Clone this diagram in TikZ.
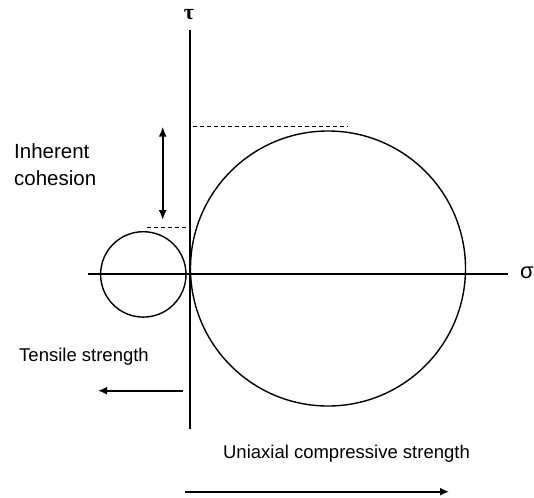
\documentclass[tikz,border=0pt]{standalone}
\usepackage{fontspec}
\setmainfont{Liberation Sans}
\newfontfamily\greekfont{Liberation Serif}
\usetikzlibrary{arrows.meta}
\begin{document}
\begin{tikzpicture}[x=1pt,y=-1pt,
  axis/.style={line width=1.7pt},
  circ/.style={line width=1.4pt},
  guide/.style={line width=1.3pt,dash pattern=on 4pt off 3pt},
  arr/.style={line width=1.7pt,-{Latex[length=9pt,width=8pt]}},
  darr/.style={line width=1.7pt,{Latex[length=10pt,width=8pt]}-{Latex[length=10pt,width=8pt]}},
  lbl/.style={inner sep=0pt,font=\fontsize{18.5}{22}\selectfont},
  biglbl/.style={inner sep=0pt,font=\fontsize{20.5}{27}\selectfont,align=left}]
\useasboundingbox (0,0) rectangle (534,497);
% axes
\coordinate (vtop) at (190,30);
\coordinate (vbot) at (190,429);
\coordinate (hl) at (88,274);
\coordinate (hr) at (508,274);
\draw[axis] (vtop) -- (vbot);
\draw[axis] (hl) -- (hr);
\node[inner sep=0pt,font=\greekfont\fontsize{22}{22}\selectfont\bfseries] (tau) at (189,15) {τ};
\node[inner sep=0pt,font=\fontsize{22}{22}\selectfont] (sigma) at (527,273) {σ};
% circles
\node[circ,draw,circle,minimum size=275pt,inner sep=0pt] (big) at (328,268.5) {};
\node[circ,draw,circle,minimum size=85.4pt,inner sep=0pt] (small) at (143.3,274.4) {};
% dashed guides
\coordinate (d1a) at (193,126.7);
\coordinate (d1b) at (348,126.7);
\coordinate (d2a) at (146.7,227.7);
\coordinate (d2b) at (187,227.7);
\draw[guide] (d1a) -- (d1b);
\draw[guide] (d2a) -- (d2b);
% cohesion arrow
\coordinate (ca) at (162.7,126.7);
\coordinate (cb) at (162.7,220);
\draw[darr] (ca) -- (cb);
\node[biglbl,anchor=north west] (coh) at (14,143) {Inherent\\cohesion};
% tensile
\coordinate (ta) at (183,390.7);
\coordinate (tb) at (98,390.7);
\draw[arr] (ta) -- (tb);
\node[lbl] (tens) at (84,357) {Tensile strength};
% compressive
\coordinate (ua) at (185,491.7);
\coordinate (ub) at (449,491.7);
\draw[arr] (ua) -- (ub);
\node[lbl] (ucs) at (346.5,454) {Uniaxial compressive strength};
\end{tikzpicture}
\end{document}
